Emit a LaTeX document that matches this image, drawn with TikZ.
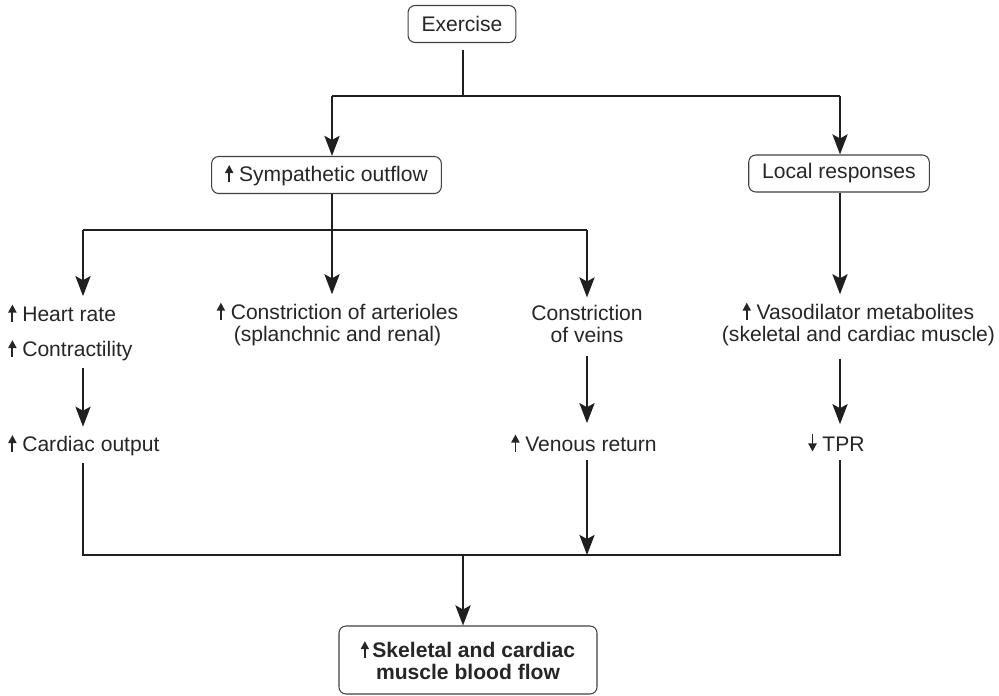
\documentclass[tikz,border=0pt]{standalone}
\usepackage{fontspec}
\setmainfont{Liberation Sans}
\usetikzlibrary{arrows.meta, positioning}
\tikzset{
    box/.style={rectangle, rounded corners=4pt, draw=black!75, line width=0.6pt, text=black!85, inner xsep=0.27cm, minimum height=0.74cm, align=center, font=\fontsize{12}{13}\selectfont},
    txt/.style={inner sep=0.14cm, text=black!85, align=center, font=\fontsize{12}{13}\selectfont},
    link/.style={line width=1.6pt, draw=black!88},
    arrow/.style={link, -{Stealth[length=0.4cm, width=0.3cm, inset=0.08cm]}},
    tinyarrow/.style={line width=1.05pt, draw=black!85, -{Triangle[length=4.6pt, width=4.6pt]}}
}
\newcommand{\upar}{\tikz[baseline=0pt]\draw[tinyarrow] (0,-0.3pt) -- (0,9.4pt);}
\newcommand{\downar}{\tikz[baseline=0pt]\draw[tinyarrow] (0,9.4pt) -- (0,-0.3pt);}

\begin{document}
\begin{tikzpicture}
    \useasboundingbox (0,0) rectangle (19.98,-13.9);
    % Columns and bars
    \coordinate (colA) at (1.66,0);
    \coordinate (colB) at (6.64,0);
    \coordinate (colM) at (9.26,0);
    \coordinate (colC) at (11.74,0);
    \coordinate (colD) at (16.8,0);
    \coordinate (topbar) at (0,-1.92);
    \coordinate (sympbar) at (0,-4.6);
    \coordinate (botbar) at (0,-11.1);

    % Top: stimulus and the two branches
    \node (exer) [box] at (9.24,-0.48) {Exercise};
    \node (symp) [box] at (6.53,-3.5) {\upar\ Sympathetic outflow};
    \node (local) [box] at (16.78,-3.47) {Local responses};

    \draw [link, shorten <=0.14cm] (colM |- exer.south) -- (colM |- topbar);
    \draw [link] (colB |- topbar) -- (colD |- topbar);
    \draw [arrow] (colB |- topbar) -- (colB |- symp.north);
    \draw [arrow] (colD |- topbar) -- (colD |- local.north);

    % Middle row: effects
    \node (heart) [txt, anchor=west] at (0.02,-6.26) {\upar\ Heart rate};
    \node (contr) [txt, anchor=west] at (0.02,-7.0) {\upar\ Contractility};
    \node (arter) [txt] at (6.75,-6.48) {\upar\ Constriction of arterioles\\(splanchnic and renal)};
    \node (veins) [txt] at (11.74,-6.48) {Constriction\\of veins};
    \node (vaso) [txt] at (17.17,-6.48) {\upar\ Vasodilator metabolites\\(skeletal and cardiac muscle)};

    \draw [link] (colB |- symp.south) -- (colB |- sympbar);
    \draw [link] (colA |- sympbar) -- (colC |- sympbar);
    \draw [arrow] (colA |- sympbar) -- (colA |- heart.north);
    \draw [arrow] (colB |- sympbar) -- (colB |- arter.north);
    \draw [arrow] (colC |- sympbar) -- (colC |- veins.north);
    \draw [arrow] (colD |- local.south) -- (colD |- vaso.north);

    % Lower row
    \node (cardiac) [txt, anchor=west] at (0.02,-8.9) {\upar\ Cardiac output};
    \node (venous) [txt] at (11.68,-8.86) {\upar\ Venous return};
    \node (tpr) [txt] at (16.73,-8.86) {\downar\ TPR};

    \draw [arrow] (colA |- contr.south) -- (colA |- cardiac.north);
    \draw [arrow, shorten <=0.1cm, shorten >=0.06cm] (colC |- veins.south) -- (colC |- venous.north);
    \draw [arrow, shorten <=0.1cm, shorten >=0.04cm] (colD |- vaso.south) -- (colD |- tpr.north);

    % Bottom: combined result
    \node (flow) [box, font=\fontsize{12}{12.5}\selectfont\bfseries, minimum width=5.16cm, minimum height=1.36cm] at (9.36,-13.2) {\upar\,Skeletal and cardiac\\muscle blood flow};

    \draw [link] (colA |- cardiac.south) -- (colA |- botbar) -- (colD |- botbar) -- (colD |- tpr.south);
    \draw [arrow] (colC |- venous.south) -- (colC |- botbar);
    \draw [arrow] (colM |- botbar) -- (colM |- flow.north);
\end{tikzpicture}
\end{document}
